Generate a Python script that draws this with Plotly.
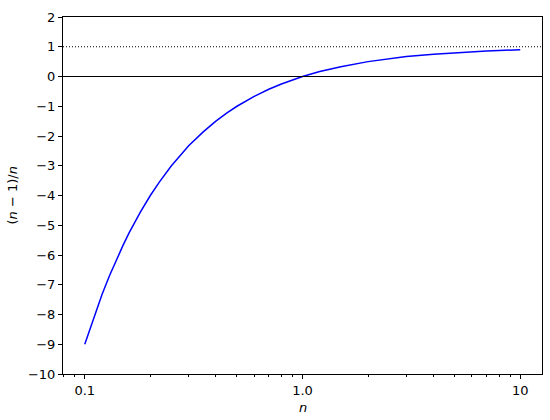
import plotly.graph_objects as go

# values
n_vals = [0.1, 0.11, 0.12, 0.13, 0.14, 0.15, 0.16, 0.18, 0.2, 0.22, 0.25, 0.3,
          0.35, 0.4, 0.45, 0.5, 0.6, 0.7, 0.8, 0.9, 1.0, 1.2, 1.5, 2.0, 2.5,
          3.0, 4.0, 5.0, 6.0, 7.0, 8.0, 10.0]
ratio_vals = [-9.0, -8.09, -7.33, -6.69, -6.14, -5.67, -5.25, -4.56, -4.0, -3.55,
              -3.0, -2.33, -1.86, -1.5, -1.22, -1.0, -0.67, -0.43, -0.25, -0.11,
              0.0, 0.17, 0.33, 0.5, 0.6, 0.67, 0.75, 0.8, 0.83, 0.86, 0.875, 0.9]

x_ticks = [0.1, 1.0, 10]
x_ticktext = ["0.1", "1.0", "10"]
y_ticks = list(range(-10, 3))
minor_ticks = [0.08, 0.09] + [k / 10 for k in range(2, 10)] + list(range(2, 10))

font = dict(family="DejaVu Sans", size=13, color="black")

fig = go.Figure()
fig.add_trace(go.Scatter(x=n_vals, y=ratio_vals, mode="lines",
                         line=dict(color="blue", width=1.5), showlegend=False))

fig.add_hline(y=1, line=dict(color="black", width=1, dash="1px,2px"))
fig.add_hline(y=0, line=dict(color="black", width=1.2))

# axis titles as annotations so the margins stay fixed
fig.add_annotation(text="<i>n</i>", xref="paper", yref="paper", x=0.5, y=0,
                   yshift=-33, showarrow=False, yanchor="middle", font=font)
fig.add_annotation(text="(<i>n</i> − 1)/<i>n</i>", xref="paper", yref="paper",
                   x=0, y=0.5, xshift=-51, textangle=-90, showarrow=False,
                   xanchor="center", font=font)

fig.update_layout(
    width=550, height=420,
    margin=dict(l=63, r=8, t=17, b=46),
    plot_bgcolor="white", paper_bgcolor="white",
    font=font,
    xaxis=dict(
        type="log", range=[-1.1, 1.1], automargin=False,
        tickmode="array", tickvals=x_ticks, ticktext=x_ticktext,
        ticks="outside", ticklen=4, tickwidth=1, tickcolor="black",
        showline=True, linecolor="black", linewidth=1, mirror=True,
        showgrid=False, zeroline=False,
        minor=dict(tickmode="array", tickvals=minor_ticks, ticks="outside",
                   ticklen=2, tickwidth=0.8, tickcolor="black", showgrid=False),
    ),
    yaxis=dict(
        range=[-10, 2], automargin=False,
        tickmode="array", tickvals=y_ticks,
        ticks="outside", ticklen=4, tickwidth=1, tickcolor="black",
        showline=True, linecolor="black", linewidth=1, mirror=True,
        showgrid=False, zeroline=False,
    ),
)

# drop the browser's default body margin so the figure sits at the corner
fig.write_html("out.html", config={"displayModeBar": False},
               post_script="document.body.style.margin = '0';")
